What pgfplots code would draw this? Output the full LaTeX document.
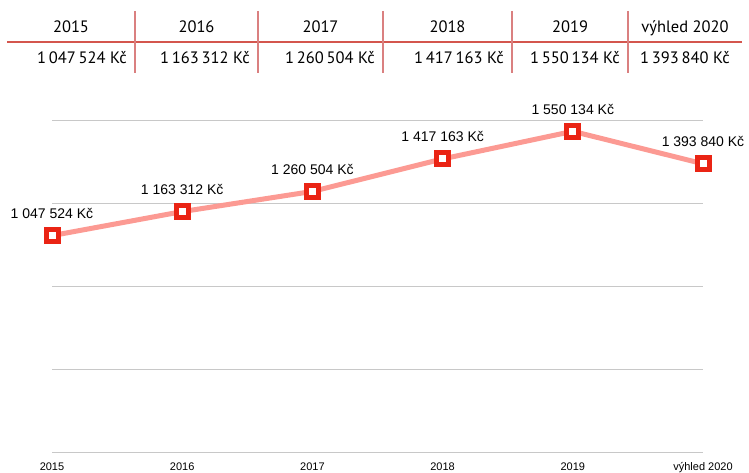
\documentclass[border=0pt]{standalone}
\usepackage{fontspec}
\setmainfont{Liberation Sans}
\newfontfamily\tablefont{PT Sans}
\usepackage{pgfplots}
\pgfplotsset{compat=1.18}
\definecolor{lineC}{HTML}{FC9A93}
\definecolor{markC}{HTML}{EA2414}
\definecolor{gridC}{HTML}{C8C8C8}
\definecolor{tabH}{HTML}{D4564E}
\definecolor{tabV}{HTML}{DA8080}
\begin{document}
\begin{tikzpicture}[x=1bp,y=1bp]
\path[use as bounding box] (0,0) rectangle (749,473);
% table at top (y from top: t -> 473-t)
\draw[tabH, line width=1.3bp] (7,{473-42}) -- (742,{473-42});
\foreach \xx in {135,258,383,512,628}{
  \draw[tabV, line width=1.5bp] (\xx,{473-11}) -- (\xx,{473-73});
}
\begin{scope}[every node/.style={font=\tablefont\fontsize{16.5bp}{19bp}\selectfont, inner sep=0pt}]
\node[anchor=base] at (71,{473-33}) {2015};
\node[anchor=base] at (196.5,{473-33}) {2016};
\node[anchor=base] at (320.5,{473-33}) {2017};
\node[anchor=base] at (447.5,{473-33}) {2018};
\node[anchor=base] at (570,{473-33}) {2019};
\node[anchor=base] at (685,{473-33}) {výhled 2020};
\node[anchor=base east] at (127,{473-64}) {1\,047\,524 Kč};
\node[anchor=base east] at (250,{473-64}) {1\,163\,312 Kč};
\node[anchor=base east] at (375,{473-64}) {1\,260\,504 Kč};
\node[anchor=base east] at (504,{473-64}) {1\,417\,163 Kč};
\node[anchor=base east] at (620,{473-64}) {1\,550\,134 Kč};
\node[anchor=base east] at (730,{473-64}) {1\,393\,840 Kč};
\end{scope}
\begin{axis}[
  at={(52bp,20bp)}, anchor=origin,
  scale only axis, width=651bp, height=332bp,
  xmin=0, xmax=5, ymin=0, ymax=1600000,
  clip=false,
  axis line style={draw=none},
  major tick length=0pt,
  scaled y ticks=false,
  ytick={0,400000,800000,1200000,1600000},
  yticklabels={},
  ymajorgrids, grid style={gridC, line width=1bp},
  xtick={0,1,2,3,4,5},
  xticklabels={2015,2016,2017,2018,2019,výhled 2020},
  xticklabel style={font=\fontsize{11bp}{13bp}\selectfont, anchor=base, yshift=-18bp, inner sep=0pt},
  nodes near coords,
  point meta=explicit symbolic,
  nodes near coords style={font=\fontsize{14bp}{16bp}\selectfont, anchor=base, yshift=17bp, inner sep=0pt, text=black},
]
\addplot[lineC, line width=5bp, mark=square*, mark size=6bp,
  mark options={draw=markC, fill=white, line width=5bp}]
  coordinates {
  (0,1047524) [1 047 524 Kč]
  (1,1163312) [1 163 312 Kč]
  (2,1260504) [1 260 504 Kč]
  (3,1417163) [1 417 163 Kč]
  (4,1550134) [1 550 134 Kč]
  (5,1393840) [1 393 840 Kč]
  };
\end{axis}
\end{tikzpicture}
\end{document}
